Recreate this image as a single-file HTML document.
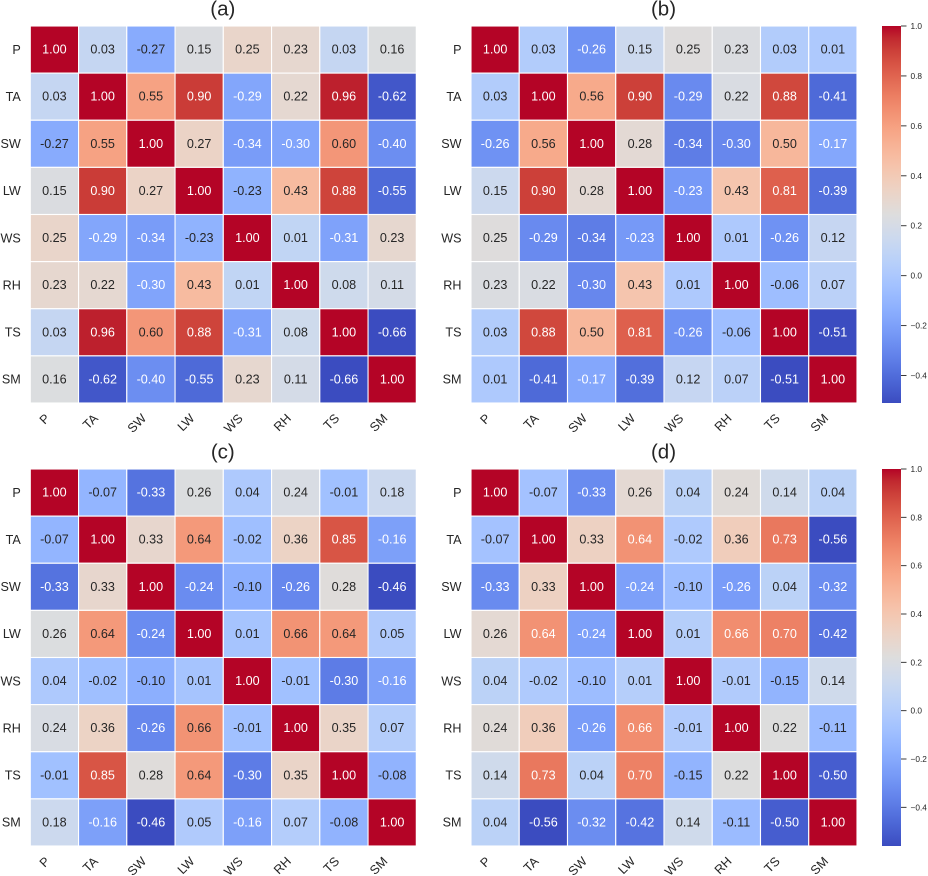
<!DOCTYPE html>
<html>
<head>
<meta charset="utf-8">
<title>Correlation heatmaps</title>
<style>
html,body{margin:0;padding:0;background:#fff;}
svg{display:block;font-family:"Liberation Sans",Arial,sans-serif;filter:blur(0.35px);}
text{fill:#262626;}
</style>
</head>
<body>
<svg id="figure" width="928" height="876" viewBox="0 0 928 876" xmlns="http://www.w3.org/2000/svg"></svg>
<script>
const variables = ['P','TA','SW','LW','WS','RH','TS','SM'];
const panelTitles = ['(a)','(b)','(c)','(d)'];
const matrixA = [
[1.00,0.03,-0.27,0.15,0.25,0.23,0.03,0.16],
[0.03,1.00,0.55,0.90,-0.29,0.22,0.96,-0.62],
[-0.27,0.55,1.00,0.27,-0.34,-0.30,0.60,-0.40],
[0.15,0.90,0.27,1.00,-0.23,0.43,0.88,-0.55],
[0.25,-0.29,-0.34,-0.23,1.00,0.01,-0.31,0.23],
[0.23,0.22,-0.30,0.43,0.01,1.00,0.08,0.11],
[0.03,0.96,0.60,0.88,-0.31,0.08,1.00,-0.66],
[0.16,-0.62,-0.40,-0.55,0.23,0.11,-0.66,1.00]];
const matrixB = [
[1.00,0.03,-0.26,0.15,0.25,0.23,0.03,0.01],
[0.03,1.00,0.56,0.90,-0.29,0.22,0.88,-0.41],
[-0.26,0.56,1.00,0.28,-0.34,-0.30,0.50,-0.17],
[0.15,0.90,0.28,1.00,-0.23,0.43,0.81,-0.39],
[0.25,-0.29,-0.34,-0.23,1.00,0.01,-0.26,0.12],
[0.23,0.22,-0.30,0.43,0.01,1.00,-0.06,0.07],
[0.03,0.88,0.50,0.81,-0.26,-0.06,1.00,-0.51],
[0.01,-0.41,-0.17,-0.39,0.12,0.07,-0.51,1.00]];
const matrixC = [
[1.00,-0.07,-0.33,0.26,0.04,0.24,-0.01,0.18],
[-0.07,1.00,0.33,0.64,-0.02,0.36,0.85,-0.16],
[-0.33,0.33,1.00,-0.24,-0.10,-0.26,0.28,-0.46],
[0.26,0.64,-0.24,1.00,0.01,0.66,0.64,0.05],
[0.04,-0.02,-0.10,0.01,1.00,-0.01,-0.30,-0.16],
[0.24,0.36,-0.26,0.66,-0.01,1.00,0.35,0.07],
[-0.01,0.85,0.28,0.64,-0.30,0.35,1.00,-0.08],
[0.18,-0.16,-0.46,0.05,-0.16,0.07,-0.08,1.00]];
const matrixD = [
[1.00,-0.07,-0.33,0.26,0.04,0.24,0.14,0.04],
[-0.07,1.00,0.33,0.64,-0.02,0.36,0.73,-0.56],
[-0.33,0.33,1.00,-0.24,-0.10,-0.26,0.04,-0.32],
[0.26,0.64,-0.24,1.00,0.01,0.66,0.70,-0.42],
[0.04,-0.02,-0.10,0.01,1.00,-0.01,-0.15,0.14],
[0.24,0.36,-0.26,0.66,-0.01,1.00,0.22,-0.11],
[0.14,0.73,0.04,0.70,-0.15,0.22,1.00,-0.50],
[0.04,-0.56,-0.32,-0.42,0.14,-0.11,-0.50,1.00]];
const colorbarTicks = [1.0,0.8,0.6,0.4,0.2,0.0,-0.2,-0.4];

const coolwarmStops = [[59,76,192],[68,90,204],[77,104,215],[87,117,225],[98,130,234],[108,142,241],[119,154,247],[130,165,251],[141,176,254],[152,185,255],[163,194,255],[174,201,253],[184,208,249],[194,213,244],[204,217,238],[213,219,230],[221,221,221],[229,216,209],[236,211,197],[241,204,185],[245,196,173],[247,187,160],[247,177,148],[247,166,135],[244,154,123],[241,141,111],[236,127,99],[229,112,88],[222,96,77],[213,80,66],[203,62,56],[192,40,47],[180,4,38]];

const SVGNS = 'http://www.w3.org/2000/svg';
const fig = document.getElementById('figure');

function make(tag, attrs, parent) {
  const el = document.createElementNS(SVGNS, tag);
  for (const k in attrs) el.setAttribute(k, attrs[k]);
  parent.appendChild(el);
  return el;
}
function coolwarmRGB(t) {
  t = Math.max(0, Math.min(1, t));
  const p = t * (coolwarmStops.length - 1);
  const i = Math.min(Math.floor(p), coolwarmStops.length - 2);
  const f = p - i;
  return coolwarmStops[i].map((c, k) => c + (coolwarmStops[i + 1][k] - c) * f);
}
function cssColor(rgb) {
  return 'rgb(' + rgb.map(Math.round).join(',') + ')';
}
function luminance(rgb) {
  const l = rgb.map(c => {
    c /= 255;
    return c <= 0.03928 ? c / 12.92 : Math.pow((c + 0.055) / 1.055, 2.4);
  });
  return 0.2126 * l[0] + 0.7152 * l[1] + 0.0722 * l[2];
}
function dataMin(m) {
  return Math.min.apply(null, m.map(r => Math.min.apply(null, r)));
}

function drawPanel(matrix, title, box, key) {
  const g = make('g', {}, fig);
  
  
  const n = variables.length;
  const xScale = i => box.x + i * box.w / n;
  const yScale = i => box.y + i * box.h / n;
  const vmin = dataMin(matrix);
  const vmax = 1;
  const norm = v => (v - vmin) / (vmax - vmin);

  const t = make('text', {x: box.x + box.w / 2 - 0.5, y: box.y - 10.5, 'text-anchor': 'middle', 'font-size': 20.5}, g);
  
  
  t.textContent = title;

  matrix.forEach((row, r) => {
    row.forEach((v, c) => {
      const rgb = coolwarmRGB(norm(v));
      const rect = make('rect', {x: xScale(c), y: yScale(r), width: box.w / n, height: box.h / n, fill: cssColor(rgb), stroke: '#fff', 'stroke-width': 1.1}, g);
      
      
    });
  });
  matrix.forEach((row, r) => {
    row.forEach((v, c) => {
      const rgb = coolwarmRGB(norm(v));
      const label = make('text', {x: xScale(c + 0.5), y: yScale(r + 0.5) + 4, 'text-anchor': 'middle', 'font-size': 12.6}, g);
      
      
      label.style.fill = luminance(rgb) < 0.408 ? '#fff' : '#262626';
      label.textContent = v.toFixed(2);
    });
  });
  variables.forEach((name, i) => {
    const yl = make('text', {x: box.x - 9.5, y: yScale(i + 0.5) + 4.2, 'text-anchor': 'end', 'font-size': 12.6}, g);
    
    
    yl.textContent = name;
    const ax = xScale(i + 0.5) - 7;
    const ay = box.y + box.h + 13;
    const xl = make('text', {x: ax, y: ay, dy: '0.35em', 'text-anchor': 'end', 'font-size': 12.6, transform: 'rotate(-45 ' + ax + ' ' + ay + ')'}, g);
    
    
    xl.textContent = name;
  });
}

function drawColorbar(matrix, box, key) {
  const g = make('g', {}, fig);
  
  
  const vmin = dataMin(matrix);
  const vmax = 1;
  const yScale = v => box.y + (vmax - v) / (vmax - vmin) * box.h;
  const defs = make('defs', {}, g);
  const gradId = 'cbar-gradient-' + key;
  const grad = make('linearGradient', {id: gradId, x1: 0, y1: 1, x2: 0, y2: 0}, defs);
  coolwarmStops.forEach((c, i) => {
    make('stop', {offset: i / (coolwarmStops.length - 1), 'stop-color': cssColor(c)}, grad);
  });
  const bar = make('rect', {x: box.x, y: box.y, width: box.w, height: box.h, fill: 'url(#' + gradId + ')'}, g);
  
  
  colorbarTicks.forEach(v => {
    const y = yScale(v);
    const tick = make('line', {x1: box.x + box.w, x2: box.x + box.w + 5.5, y1: y, y2: y, stroke: '#262626', 'stroke-width': 0.9}, g);
    
    
    const label = make('text', {x: box.x + box.w + 9.5, y: y + 3, 'font-size': 8.3}, g);
    
    
    label.textContent = v.toFixed(1).replace('-', '\u2212');
  });
}

const W = 386, H = 377;
drawPanel(matrixA, panelTitles[0], {x: 30.3, y: 26, w: W, h: H}, 'a');
drawPanel(matrixB, panelTitles[1], {x: 471, y: 26, w: W, h: H}, 'b');
drawPanel(matrixC, panelTitles[2], {x: 30.3, y: 469, w: W, h: H}, 'c');
drawPanel(matrixD, panelTitles[3], {x: 471, y: 469, w: W, h: H}, 'd');
drawColorbar(matrixB, {x: 882, y: 26, w: 19, h: 377}, 'b');
drawColorbar(matrixD, {x: 882, y: 469, w: 19, h: 377}, 'd');
</script>
</body>
</html>
